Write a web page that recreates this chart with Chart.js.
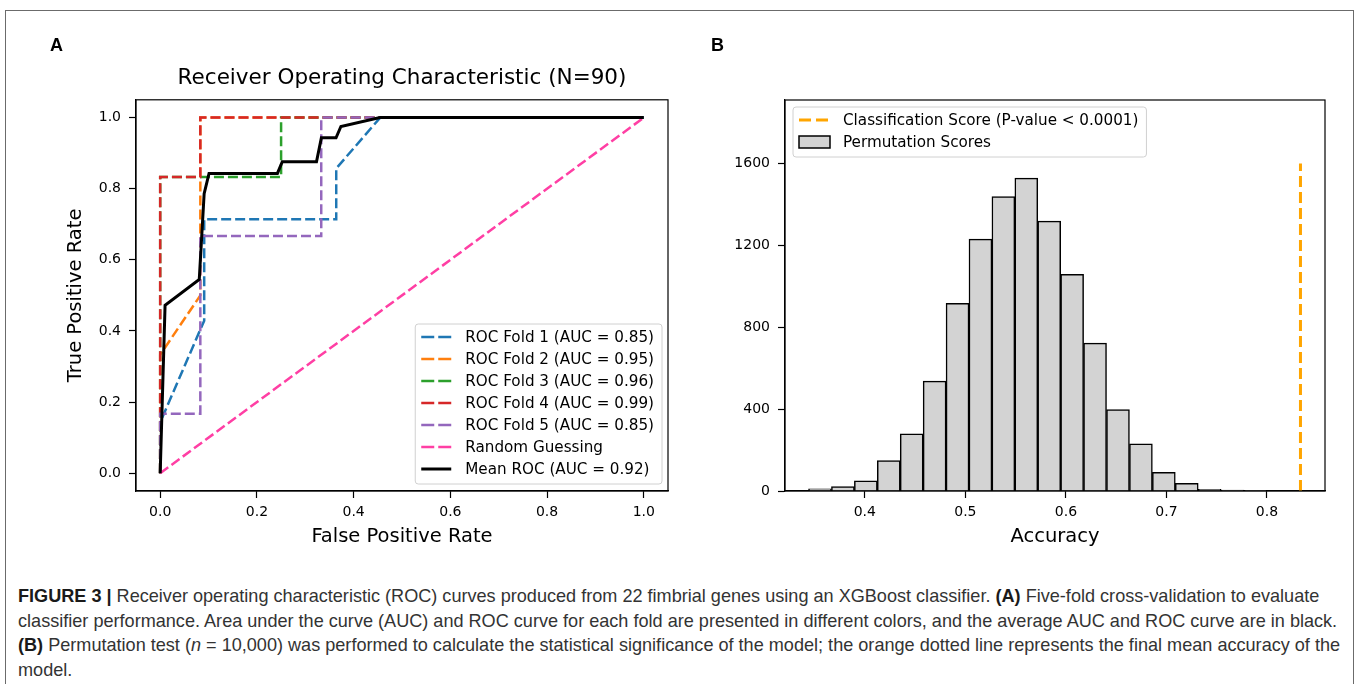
<!DOCTYPE html>
<html>
<head>
<meta charset="utf-8">
<script src="https://cdn.jsdelivr.net/npm/chart.js@4.4.1/dist/chart.umd.min.js"></script>
<style>
  html, body { margin: 0; padding: 0; background: #fff; }
  body { width: 1361px; height: 684px; position: relative; overflow: hidden; }
  #frame { position: absolute; left: 5px; top: 10px; width: 1347px; height: 700px; border: 1px solid #6b6b6b; border-bottom: none; }
  .panel { position: absolute; top: 0; }
  .tag { position: absolute; top: 35px; font: bold 18px "Liberation Sans", Arial, sans-serif; color: #000; }
  #caption { position: absolute; left: 18px; top: 584px; font: 18.1px "Liberation Sans", Arial, sans-serif; color: #333; line-height: 24.5px; white-space: nowrap; }
  #caption b { color: #1a1a1a; }
</style>
</head>
<body>
<div id="frame"></div>
<canvas id="roc" class="panel" style="left:0px" width="700" height="560"></canvas>
<canvas id="perm" class="panel" style="left:700px" width="661" height="560"></canvas>
<div class="tag" style="left:50px">A</div>
<div class="tag" style="left:711px">B</div>
<div id="caption">
<b>FIGURE 3 |</b> Receiver operating characteristic (ROC) curves produced from 22 fimbrial genes using an XGBoost classifier. <b>(A)</b> Five-fold cross-validation to evaluate<br>
classifier performance. Area under the curve (AUC) and ROC curve for each fold are presented in different colors, and the average AUC and ROC curve are in black.<br>
<b>(B)</b> Permutation test (<i>n</i> = 10,000) was performed to calculate the statistical significance of the model; the orange dotted line represents the final mean accuracy of the<br>
model.
</div>
<script>
// ---- panel A: ROC curves ----
var foldLabels = ['ROC Fold 1 (AUC = 0.85)', 'ROC Fold 2 (AUC = 0.95)', 'ROC Fold 3 (AUC = 0.96)',
                  'ROC Fold 4 (AUC = 0.99)', 'ROC Fold 5 (AUC = 0.85)'];
var foldColors = ['#1f77b4', '#ff7f0e', '#2ca02c', '#d62728', '#9467bd'];

var fold1Fpr = [0, 0, 0.091, 0.091, 0.364, 0.364, 0.455, 1];
var fold1Tpr = [0, 0.143, 0.429, 0.714, 0.714, 0.857, 1, 1];
var fold2Fpr = [0, 0, 0.083, 0.083, 1];
var fold2Tpr = [0, 0.333, 0.5, 1, 1];
var fold3Fpr = [0, 0, 0.25, 0.25, 1];
var fold3Tpr = [0, 0.833, 0.833, 1, 1];
var fold4Fpr = [0, 0, 0.083, 0.083, 1];
var fold4Tpr = [0, 0.833, 0.833, 1, 1];
var fold5Fpr = [0, 0, 0.083, 0.083, 0.333, 0.333, 1];
var fold5Tpr = [0, 0.167, 0.167, 0.667, 0.667, 1, 1];
var randomFpr = [0, 1];
var randomTpr = [0, 1];
var meanFpr = [0, 0.0101, 0.0808, 0.0909, 0.101, 0.2424, 0.2525, 0.3232, 0.3333, 0.3636, 0.3737, 0.4545, 1];
var meanTpr = [0, 0.472, 0.545, 0.786, 0.843, 0.843, 0.876, 0.876, 0.943, 0.943, 0.975, 1, 1];
var rocTicks = [0, 0.2, 0.4, 0.6, 0.8, 1.0];

// ---- panel B: permutation histogram ----
var binStart = 0.344;
var binWidth = 0.0228;
var permCounts = [11, 21, 50, 148, 279, 537, 917, 1230, 1438, 1528, 1318, 1058, 722, 398, 230, 91, 37, 8, 5, 2];
var classScore = 0.8333;
var scoreLineTop = 1600;
var accTicks = [0.4, 0.5, 0.6, 0.7, 0.8];
var countTicks = [0, 400, 800, 1200, 1600];

var FONT = '"DejaVu Sans", sans-serif';
var TICK = 14, LABEL = 19.5, LEG = 15.2;

function pts(xs, ys) {
  return xs.map(function(x, i) { return {x: x, y: ys[i]}; });
}

// matplotlib-like box around the axes
var framePlugin = {
  id: 'frame',
  afterDatasetsDraw: function(chart) {
    var a = chart.chartArea, ctx = chart.ctx;
    ctx.save();
    ctx.strokeStyle = '#000';
    ctx.lineWidth = 1.2;
    ctx.strokeRect(a.left, a.top, a.right - a.left, a.bottom - a.top);
    ctx.restore();
  }
};

// legend drawn inside the axes, like plt.legend(loc=...)
var boxLegend = {
  id: 'boxLegend',
  afterDraw: function(chart, args, opts) {
    var items = opts.items;
    if (!items) return;
    var ctx = chart.ctx, a = chart.chartArea;
    ctx.save();
    ctx.font = LEG + 'px ' + FONT;
    var textW = Math.max.apply(null, items.map(function(it) { return ctx.measureText(it.text).width; }));
    var w = 6 + 30 + 14 + textW + 8;
    var h = items.length * 22 + 6;
    var x = opts.loc === 'lower right' ? a.right - 6 - w : a.left + 8;
    var y = opts.loc === 'lower right' ? a.bottom - 7 - h : a.top + 7;
    ctx.beginPath();
    ctx.roundRect(x, y, w, h, 3);
    ctx.fillStyle = 'rgba(255,255,255,0.85)';
    ctx.fill();
    ctx.strokeStyle = '#d0d0d0';
    ctx.lineWidth = 1;
    ctx.stroke();
    items.forEach(function(it, i) {
      var cy = y + 13 + i * 22;
      if (it.box) {
        ctx.setLineDash([]);
        ctx.fillStyle = it.fill;
        ctx.fillRect(x + 6, cy - 6, 31, 12);
        ctx.strokeStyle = it.color;
        ctx.lineWidth = 1.5;
        ctx.strokeRect(x + 6, cy - 6, 31, 12);
      } else {
        ctx.setLineDash(it.dash || []);
        ctx.strokeStyle = it.color;
        ctx.lineWidth = it.width;
        ctx.beginPath();
        ctx.moveTo(x + 6, cy);
        ctx.lineTo(x + 36, cy);
        ctx.stroke();
      }
      ctx.setLineDash([]);
      ctx.fillStyle = '#000';
      ctx.textBaseline = 'middle';
      ctx.fillText(it.text, x + 50, cy + 1);
    });
    ctx.restore();
  }
};

function axisStyle() {
  return {
    border: {display: true, color: '#000', width: 1.2},
    grid: {drawOnChartArea: false, drawTicks: true, tickLength: 7, color: '#000', tickWidth: 1.2, offset: false}
  };
}

// ---------- panel A ----------
var rocFprs = [fold1Fpr, fold2Fpr, fold3Fpr, fold4Fpr, fold5Fpr];
var rocTprs = [fold1Tpr, fold2Tpr, fold3Tpr, fold4Tpr, fold5Tpr];
var rocSets = foldLabels.map(function(label, i) {
  return {
    label: label, data: pts(rocFprs[i], rocTprs[i]),
    borderColor: foldColors[i], borderWidth: 2.5, borderDash: [10, 4],
    order: 6 - i
  };
});
rocSets.push({label: 'Random Guessing', data: pts(randomFpr, randomTpr),
  borderColor: '#ff3fa4', borderWidth: 2.5, borderDash: [10, 4], order: 1});
rocSets.push({label: 'Mean ROC (AUC = 0.92)', data: pts(meanFpr, meanTpr),
  borderColor: '#000', borderWidth: 3, order: 0});

var xA = axisStyle();
xA.min = -0.05; xA.max = 1.05; xA.type = 'linear';
xA.afterBuildTicks = function(s) { s.ticks = rocTicks.map(function(v) { return {value: v}; }); };
xA.afterFit = function(s) { s.height = 69; };
xA.ticks = {color: '#000', font: {family: FONT, size: TICK}, padding: 6, maxRotation: 0,
  callback: function(v) { return v.toFixed(1); }};
xA.title = {display: true, text: 'False Positive Rate', color: '#000', font: {family: FONT, size: LABEL}, padding: {top: 0, bottom: 11}};

var yA = axisStyle();
yA.min = -0.05; yA.max = 1.05;
yA.afterBuildTicks = function(s) { s.ticks = rocTicks.map(function(v) { return {value: v}; }); };
yA.afterFit = function(s) { s.width = 136; };
yA.ticks = {color: '#000', font: {family: FONT, size: TICK}, padding: 8,
  callback: function(v) { return v.toFixed(1); }};
yA.title = {display: true, text: 'True Positive Rate', color: '#000', font: {family: FONT, size: LABEL}, padding: {top: 64, bottom: 0}};

new Chart(document.getElementById('roc'), {
  type: 'line',
  data: {datasets: rocSets},
  plugins: [framePlugin, boxLegend],
  options: {
    responsive: false, animation: false, devicePixelRatio: 1,
    layout: {padding: {left: 0, right: 32, top: 0, bottom: 0}},
    elements: {point: {radius: 0}, line: {tension: 0, borderCapStyle: 'butt', borderJoinStyle: 'miter'}},
    scales: {x: xA, y: yA},
    plugins: {
      legend: {display: false},
      tooltip: {enabled: false},
      title: {display: true, fullSize: false, text: 'Receiver Operating Characteristic (N=90)', color: '#000',
        font: {family: FONT, size: 21.5, weight: 'normal'}, padding: {top: 66, bottom: 8}},
      boxLegend: {loc: 'lower right', items: rocSets.map(function(d) {
        return {text: d.label, color: d.borderColor, width: d.borderWidth, dash: d.borderDash ? [13, 4] : []};
      })}
    }
  }
});

// ---------- panel B ----------
var histData = permCounts.map(function(c, i) {
  return {x: binStart + binWidth * (i + 0.5), y: c};
});

var xB = axisStyle();
xB.type = 'linear'; xB.min = 0.3206; xB.max = 0.8577; xB.offset = false;
xB.afterBuildTicks = function(s) { s.ticks = accTicks.map(function(v) { return {value: v}; }); };
xB.afterFit = function(s) { s.height = 69; };
xB.ticks = {color: '#000', font: {family: FONT, size: TICK}, padding: 6, maxRotation: 0,
  callback: function(v) { return v.toFixed(1); }};
xB.title = {display: true, text: 'Accuracy', color: '#000', font: {family: FONT, size: LABEL}, padding: {top: 0, bottom: 11}};

var yB = axisStyle();
yB.min = 0; yB.max = 1910;
yB.afterBuildTicks = function(s) { s.ticks = countTicks.map(function(v) { return {value: v}; }); };
yB.afterFit = function(s) { s.width = 85; };
yB.ticks = {color: '#000', font: {family: FONT, size: TICK}, padding: 8,
  callback: function(v) { return String(v); }};

new Chart(document.getElementById('perm'), {
  data: {
    datasets: [
      {type: 'line', label: 'Classification Score (P-value < 0.0001)',
        data: [{x: classScore, y: 0}, {x: classScore, y: scoreLineTop}],
        borderColor: '#ffa500', borderWidth: 3, borderDash: [11, 5], pointRadius: 0, order: 0},
      {type: 'bar', label: 'Permutation Scores', data: histData,
        backgroundColor: '#d3d3d3', borderColor: '#000', borderWidth: 1.5,
        barPercentage: 1, categoryPercentage: 1, order: 1}
    ]
  },
  plugins: [framePlugin, boxLegend],
  options: {
    responsive: false, animation: false, devicePixelRatio: 1,
    layout: {padding: {left: 0, right: 36, top: 100, bottom: 0}},
    scales: {x: xB, y: yB},
    plugins: {
      legend: {display: false},
      tooltip: {enabled: false},
      boxLegend: {loc: 'upper left', items: [
        {text: 'Classification Score (P-value < 0.0001)', color: '#ffa500', width: 3, dash: [12, 5]},
        {text: 'Permutation Scores', box: true, fill: '#d3d3d3', color: '#000'}
      ]}
    }
  }
});
</script>
</body>
</html>
